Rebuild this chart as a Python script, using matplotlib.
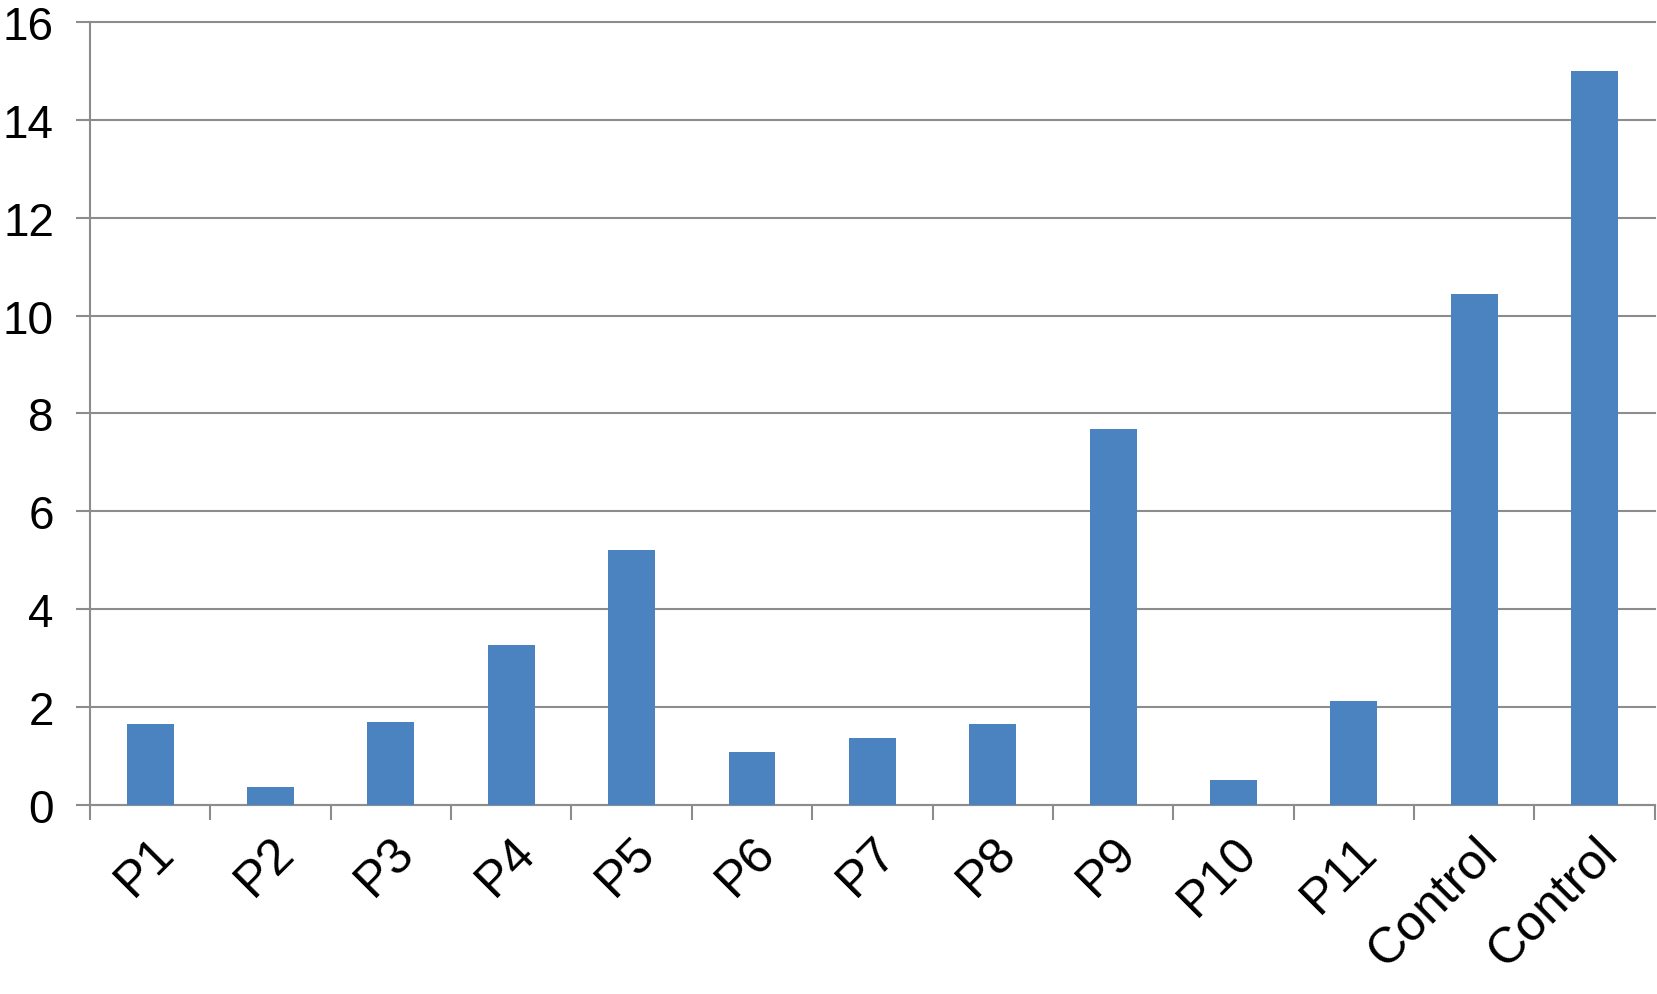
import matplotlib.pyplot as plt
import matplotlib.transforms as mtransforms
import numpy as np

# Data
categories = ['P1', 'P2', 'P3', 'P4', 'P5', 'P6', 'P7', 'P8', 'P9', 'P10', 'P11', 'Control', 'Control']
values = [1.64, 0.37, 1.69, 3.26, 5.21, 1.08, 1.36, 1.64, 7.68, 0.50, 2.12, 10.44, 15.0]
y_ticks = [0, 2, 4, 6, 8, 10, 12, 14, 16]

plt.rcParams['font.family'] = ['Liberation Sans', 'DejaVu Sans']
grey = '#8c8c8c'

fig = plt.figure(figsize=(16.58, 9.95), dpi=100)
ax = fig.add_axes([0.0543, 0.1903, 0.9437, 0.7863])

x = np.arange(len(categories))
ax.bar(x, values, width=0.39, color='#4a83bf', zorder=3)

ax.set_xlim(-0.5, len(categories) - 0.5)
ax.set_ylim(0, 16)
ax.set_yticks(y_ticks)
ax.set_yticklabels([str(v) for v in y_ticks], fontsize=33)

# horizontal gridlines
for v in y_ticks:
    ax.axhline(v, color=grey, lw=1.5, zorder=1, clip_on=False)

# category labels at centres, tick marks at boundaries
ax.set_xticks(x)
ax.set_xticklabels(categories, fontsize=36, rotation=45, ha='right', va='top',
                   rotation_mode='anchor')
shift = mtransforms.ScaledTranslation(-17 / 100, 0, fig.dpi_scale_trans)
for lbl in ax.get_xticklabels():
    lbl.set_transform(lbl.get_transform() + shift)
ax.set_xticks(np.arange(len(categories) + 1) - 0.5, minor=True)
ax.tick_params(axis='x', which='major', length=0, pad=17)
ax.tick_params(axis='x', which='minor', length=11, width=1.5, color=grey)
ax.tick_params(axis='y', length=10, width=1.5, color=grey, pad=16)

for s in ['top', 'right']:
    ax.spines[s].set_visible(False)
ax.spines['left'].set_color(grey)
ax.spines['left'].set_linewidth(1.5)
ax.spines['bottom'].set_color(grey)
ax.spines['bottom'].set_linewidth(1.5)

fig.savefig('out.png', dpi=100)
